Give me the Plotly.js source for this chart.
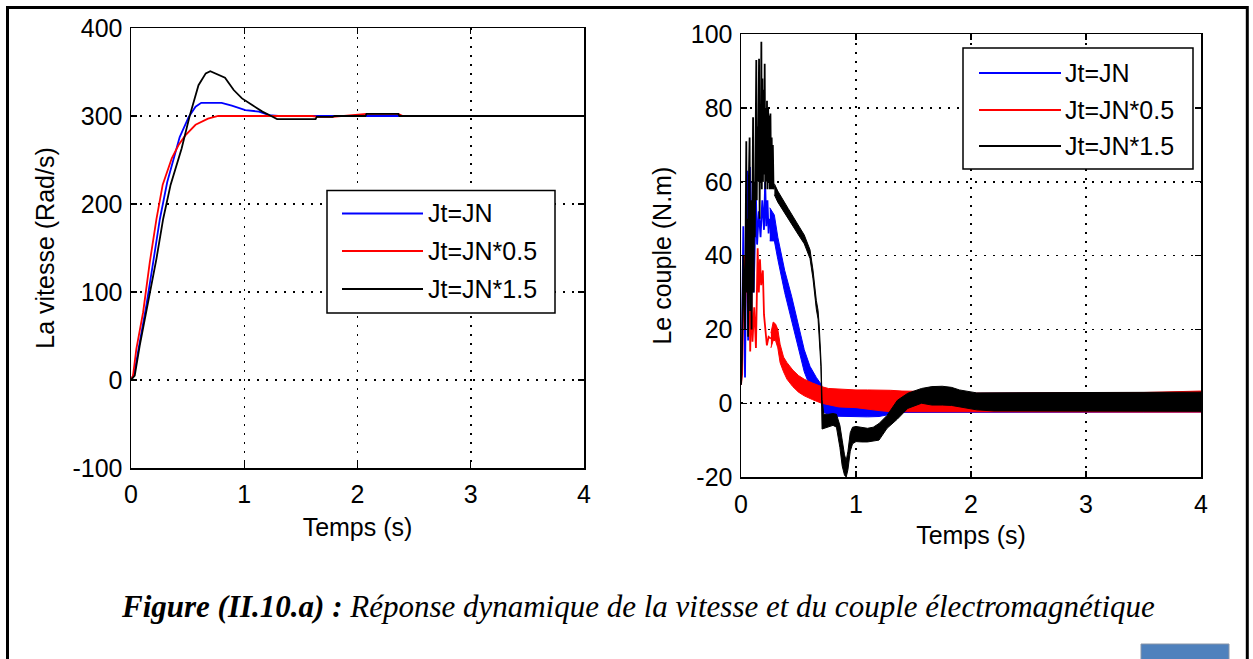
<!DOCTYPE html>
<html>
<head>
<meta charset="utf-8">
<script src="https://cdn.plot.ly/plotly-3.0.1.min.js"></script>
<style>
html,body{margin:0;padding:0;background:#fff;}
#chart{width:1253px;height:659px;}
</style>
</head>
<body>
<div id="chart"></div>
<script>
// ---------- Series names ----------
const seriesNames = ['Jt=JN', 'Jt=JN*0.5', 'Jt=JN*1.5'];
const seriesColors = ['#0000ff', '#ff0000', '#000000'];

// ---------- Speed (La vitesse, Rad/s) ----------
const tSpeedBlue = [0, 0.03, 0.062, 0.136, 0.196, 0.255, 0.32, 0.43, 0.51, 0.57, 0.62, 0.80, 0.89, 1.01, 1.13, 1.22, 1.3, 4];
const vSpeedBlue = [0, 8, 32, 85, 134, 183, 225, 276, 299, 310.6, 315, 315, 311.7, 306.7, 305, 301, 300, 300];

const tSpeedRed = [0, 0.018, 0.047, 0.107, 0.166, 0.225, 0.28, 0.36, 0.42, 0.48, 0.57, 0.68, 0.77, 0.85, 1.6, 1.65, 1.78, 2.08, 2.36, 2.4, 4];
const vSpeedRed = [0, 5, 35, 77, 134, 183, 222, 252, 267, 278, 290, 297, 300, 300, 300, 299, 299, 302.5, 302.5, 300, 300];

const tSpeedBlack = [0, 0.033, 0.077, 0.151, 0.225, 0.284, 0.35, 0.447, 0.52, 0.596, 0.66, 0.70, 0.773, 0.83, 0.907, 0.98, 1.07, 1.16, 1.233, 1.29, 1.63, 1.64, 1.78, 1.8, 2.07, 2.08, 2.36, 2.37, 4];
const vSpeedBlack = [0, 5, 39, 88.5, 138, 183, 222, 263, 301, 335, 348.5, 351, 346.6, 343.6, 329.5, 320, 312.4, 305, 300.3, 296.5, 296.5, 299, 299, 300, 300, 302.5, 302.5, 300, 300];

// ---------- Torque (Le couple, N.m) : start-up spikes ----------
const tTqBlueSpk = [0, 0.01, 0.02, 0.028, 0.035, 0.045, 0.055, 0.062, 0.07, 0.078, 0.088, 0.1, 0.11, 0.12, 0.13, 0.14, 0.155, 0.17, 0.185, 0.2, 0.21, 0.22, 0.23, 0.24, 0.25];
const vTqBlueSpk = [5, 20, 48, 15, 7, 40, 63, 17, 40, 64, 20, 60, 30, 45, 56, 43, 52, 45, 55, 47, 60, 48, 55, 46, 50];

const tTqRedSpk = [0, 0.01, 0.02, 0.03, 0.04, 0.05, 0.06, 0.07, 0.08, 0.09, 0.1, 0.115, 0.13, 0.145, 0.155, 0.165, 0.175, 0.19, 0.2, 0.21, 0.225, 0.24, 0.26];
const vTqRedSpk = [5, 8, 30, 40, 30, 38, 25, 46.7, 14, 30, 16.7, 26, 15, 42, 30, 39, 32, 36, 24, 20.5, 15.7, 18, 17.5];

const tTqBlackSpk = [0, 0.008, 0.02, 0.035, 0.046, 0.05, 0.056, 0.062, 0.068, 0.075, 0.08, 0.086, 0.092, 0.098, 0.105, 0.11, 0.115, 0.12, 0.126, 0.133, 0.137, 0.142, 0.147, 0.152, 0.157, 0.162, 0.166, 0.171, 0.177, 0.181, 0.186, 0.191, 0.196, 0.201, 0.206, 0.211, 0.216, 0.221, 0.226, 0.231, 0.236, 0.241, 0.246, 0.251, 0.256, 0.262, 0.267, 0.272, 0.277, 0.283, 0.29];
const vTqBlackSpk = [5, 12, 40, 20, 71, 30, 50, 18, 60, 72, 25, 55, 20, 65, 77.5, 30, 60, 45, 80, 93, 55, 75, 60, 85, 93.4, 50, 80, 60, 98, 58, 88, 60, 85, 62, 92, 58, 80, 60, 82, 58, 80, 60, 78, 58, 78.5, 58, 72, 58, 70, 58, 59];

// ---------- Torque : noisy band envelopes (upper / lower) ----------
const tTqBlueBand = [0.25, 0.29, 0.32, 0.38, 0.44, 0.5, 0.55, 0.6, 0.655, 0.7, 0.72, 0.8, 0.9, 1.0, 1.1, 1.2, 1.3, 1.4, 1.6, 2.0, 2.5, 3.0, 3.5, 4.0];
const hiTqBlue = [53, 51, 45, 36, 29, 21, 14.5, 10, 7, 5, 2, -0.5, -0.6, -0.8, -0.8, -0.8, 0.5, 2, 2.6, 2.7, 2.8, 2.8, 2.8, 2.8];
const loTqBlue = [44, 44, 39, 30, 23, 15, 8.5, 4.5, 2, 0, -2.5, -3.5, -3.6, -3.7, -3.7, -3.6, -3, -2.5, -2.3, -2.3, -2.4, -2.4, -2.4, -2.4];

const tTqRedBand = [0.26, 0.28, 0.30, 0.32, 0.34, 0.37, 0.40, 0.45, 0.50, 0.55, 0.62, 0.70, 0.76, 0.85, 1.0, 1.1, 1.2, 1.3, 1.4, 1.6, 2.0, 2.5, 3.0, 3.5, 4.0];
const hiTqRed = [19, 22, 21.5, 20, 16, 12.5, 11, 9, 7.5, 6.5, 5.5, 4.5, 4, 3.8, 3.6, 3.6, 3.6, 3.5, 3.3, 3.2, 2.7, 2.8, 2.8, 2.9, 3.3];
const loTqRed = [15, 17, 17, 15, 11, 8.5, 6.5, 4.5, 3, 2, 1, 0, -0.5, -1, -1.2, -1.5, -2, -2.3, -2.3, -2.3, -2.3, -2.4, -2.4, -2.4, -2.4];

const tTqBlackBand = [0.29, 0.32, 0.41, 0.50, 0.55, 0.60, 0.626, 0.655, 0.67, 0.68, 0.695, 0.705, 0.72, 0.76, 0.80, 0.83, 0.86, 0.88, 0.90, 0.915, 0.93, 0.95, 0.97, 1.00, 1.05, 1.10, 1.15, 1.20, 1.27, 1.36, 1.45, 1.57, 1.66, 1.75, 1.83, 1.90, 2.05, 2.20, 2.50, 3.00, 3.50, 4.00];
const hiTqBlack = [59.5, 57.5, 52.8, 48, 45.6, 41.6, 36.1, 27.9, 25.2, 21.2, 12, 1, -3, -3, -2.8, -3, -6, -10, -14, -15.5, -13, -8, -6.5, -6.3, -6.5, -6.8, -6.5, -5.5, -3.3, 0.8, 2.7, 4, 4.5, 4.6, 4.3, 3.6, 2.8, 2.8, 2.9, 3, 3, 3];
const loTqBlack = [56.5, 54.5, 50.2, 45.6, 43.2, 39.2, 33.7, 25.5, 22.8, 18.8, 10, -7, -6.8, -6.5, -6, -6.5, -12, -17, -19.5, -20, -18, -13, -11, -10.4, -10.5, -10.5, -10.3, -10, -6.8, -4.3, -1.4, 0, -0.5, -0.5, -0.6, -0.9, -1.8, -2.1, -2.2, -2.2, -2.2, -2.2];

// ---------- Ticks ----------
const xTicks = [0, 1, 2, 3, 4];
const xTickLabels = ['0', '1', '2', '3', '4'];
const ySpeedTicks = [-100, 0, 100, 200, 300, 400];
const ySpeedTickLabels = ['-100', '0', '100', '200', '300', '400'];
const yTorqueTicks = [-20, 0, 20, 40, 60, 80, 100];
const yTorqueTickLabels = ['-20', '0', '20', '40', '60', '80', '100'];

// ---------- helpers ----------
const W = 1253, H = 659;
const px = x => x / W;
const py = y => 1 - y / H;

function band(t, hi, lo, color, xa, ya) {
  return {
    x: t.concat(t.slice().reverse()),
    y: hi.concat(lo.slice().reverse()),
    type: 'scatter', mode: 'lines', fill: 'toself',
    fillcolor: color, line: {color: color, width: 1},
    xaxis: xa, yaxis: ya, showlegend: false, hoverinfo: 'skip'
  };
}
function line(t, v, color, w, xa, ya, name) {
  return {x: t, y: v, type: 'scatter', mode: 'lines', name: name,
    line: {color: color, width: w}, xaxis: xa, yaxis: ya, showlegend: false};
}

const data = [
  line(tSpeedBlue, vSpeedBlue, seriesColors[0], 1.8, 'x', 'y', seriesNames[0]),
  line(tSpeedRed, vSpeedRed, seriesColors[1], 1.8, 'x', 'y', seriesNames[1]),
  line(tSpeedBlack, vSpeedBlack, seriesColors[2], 1.8, 'x', 'y', seriesNames[2]),

  line(tTqBlueSpk, vTqBlueSpk, seriesColors[0], 1.8, 'x2', 'y2', seriesNames[0]),
  band(tTqBlueBand, hiTqBlue, loTqBlue, seriesColors[0], 'x2', 'y2'),
  line(tTqRedSpk, vTqRedSpk, seriesColors[1], 1.8, 'x2', 'y2', seriesNames[1]),
  band(tTqRedBand, hiTqRed, loTqRed, seriesColors[1], 'x2', 'y2'),
  line(tTqBlackSpk, vTqBlackSpk, seriesColors[2], 1.8, 'x2', 'y2', seriesNames[2]),
  band(tTqBlackBand, hiTqBlack, loTqBlack, seriesColors[2], 'x2', 'y2')
];

const tickFont = {family: 'Liberation Sans, Arial, sans-serif', size: 25, color: '#000'};
const titleFont = {family: 'Liberation Sans, Arial, sans-serif', size: 25, color: '#000'};
const axisBase = {
  showline: true, linecolor: '#000', linewidth: 1.5, mirror: 'ticks',
  ticks: 'inside', ticklen: 6, tickwidth: 1.2, tickcolor: '#000',
  showgrid: true, gridcolor: '#000', gridwidth: 1.5, griddash: '2px,7px',
  zeroline: false, tickfont: tickFont, fixedrange: true, automargin: false,
  tickmode: 'array'
};

const layout = {
  width: W, height: H,
  margin: {l: 0, r: 0, t: 0, b: 0},
  paper_bgcolor: '#fff', plot_bgcolor: '#fff',
  showlegend: false,
  xaxis: Object.assign({}, axisBase, {domain: [px(131), px(584)], range: [0, 4], tickvals: xTicks, ticktext: xTickLabels, anchor: 'y',
    ticklabelstandoff: 3, title: {text: 'Temps (s)', font: titleFont, standoff: 12}}),
  yaxis: Object.assign({}, axisBase, {domain: [py(468), py(28)], range: [-100, 400], tickvals: ySpeedTicks, ticktext: ySpeedTickLabels, anchor: 'x',
    ticklabelstandoff: 2, title: {text: 'La vitesse (Rad/s)', font: titleFont, standoff: 10}}),
  xaxis2: Object.assign({}, axisBase, {domain: [px(741), px(1201)], range: [0, 4], tickvals: xTicks, ticktext: xTickLabels, anchor: 'y2',
    ticklabelstandoff: 4, title: {text: 'Temps (s)', font: titleFont, standoff: 10}}),
  yaxis2: Object.assign({}, axisBase, {domain: [py(477), py(34.3)], range: [-20, 100], tickvals: yTorqueTicks, ticktext: yTorqueTickLabels, anchor: 'x2',
    ticklabelstandoff: 2, title: {text: 'Le couple (N.m)', font: titleFont, standoff: 12}}),
  shapes: [],
  annotations: []
};

// Legends (drawn boxes, MATLAB style)
function addLegend(box, lineX1, lineX2, textX, rows) {
  layout.shapes.push({type: 'rect', xref: 'paper', yref: 'paper', layer: 'above',
    x0: px(box[0]), x1: px(box[2]), y0: py(box[3]), y1: py(box[1]),
    line: {color: '#000', width: 1.5}, fillcolor: '#fff'});
  rows.forEach((ry, i) => {
    layout.shapes.push({type: 'line', xref: 'paper', yref: 'paper', layer: 'above',
      x0: px(lineX1), x1: px(lineX2), y0: py(ry), y1: py(ry),
      line: {color: seriesColors[i], width: 2}});
    layout.annotations.push({xref: 'paper', yref: 'paper', x: px(textX), y: py(ry),
      xanchor: 'left', yanchor: 'middle', showarrow: false, text: seriesNames[i],
      font: {family: 'Liberation Sans, Arial, sans-serif', size: 25, color: '#000'}});
  });
}
addLegend([327, 190.5, 555, 313], 342, 423, 426, [213.5, 251, 289]);
addLegend([963, 48, 1193, 169], 979, 1061, 1063, [73, 110, 146]);

// Outer page frame and decoration
layout.shapes.push(
  {type: 'line', xref: 'paper', yref: 'paper', x0: px(7.5), x1: px(1247.3), y0: py(7.5), y1: py(7.5), line: {color: '#000', width: 3}},
  {type: 'line', xref: 'paper', yref: 'paper', x0: px(7.5), x1: px(7.5), y0: py(6), y1: py(662), line: {color: '#000', width: 3}},
  {type: 'line', xref: 'paper', yref: 'paper', x0: px(1247.3), x1: px(1247.3), y0: py(6), y1: py(662), line: {color: '#000', width: 3}},
  {type: 'rect', xref: 'paper', yref: 'paper', x0: px(1141), x1: px(1229), y0: py(665), y1: py(644), line: {color: '#8a96a8', width: 1}, fillcolor: '#4f81bd'}
);

// Caption
layout.annotations.push({xref: 'paper', yref: 'paper', x: px(638), y: py(606), xanchor: 'center', yanchor: 'middle',
  showarrow: false,
  text: '<b><i>Figure (II.10.a) :</i></b><i> Réponse dynamique de la vitesse et du couple électromagnétique</i>',
  font: {family: 'Liberation Serif, Times New Roman, serif', size: 31, color: '#000'}});

Plotly.newPlot('chart', data, layout, {displayModeBar: false, staticPlot: true});
</script>
</body>
</html>
